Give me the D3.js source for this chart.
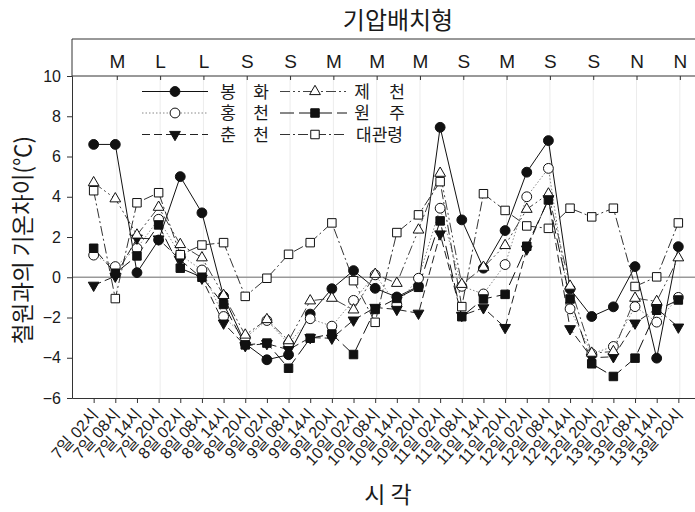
<!DOCTYPE html>
<html><head><meta charset="utf-8">
<script src="https://cdn.jsdelivr.net/npm/d3@7/dist/d3.min.js"></script>
<style>
body{margin:0;background:#fff;}
svg text{font-family:"Liberation Sans","Noto Sans CJK KR",sans-serif;fill:#1a1a1a;}
.kr{font-family:"Noto Sans CJK KR","Liberation Sans",sans-serif;}
</style></head><body>
<svg id="c" width="695" height="512"></svg>
<script>
const categories = ["7일 02시","7일 08시","7일 14시","7일 20시","8일 02시","8일 08시","8일 14시","8일 20시",
  "9일 02시","9일 08시","9일 14시","9일 20시","10일 02시","10일 08시","10일 14시","10일 20시",
  "11일 02시","11일 08시","11일 14시","11일 20시","12일 02시","12일 08시","12일 14시","12일 20시",
  "13일 02시","13일 08시","13일 14시","13일 20시"];
const patternCats = ["7일 08시","7일 20시","8일 08시","8일 20시","9일 08시","9일 20시","10일 08시",
  "10일 20시","11일 08시","11일 20시","12일 08시","12일 20시","13일 08시","13일 20시"];
const patternLabels = ["M","L","L","S","S","M","M","M","S","M","S","S","N","N"];
const yTicks = [-6,-4,-2,0,2,4,6,8,10];

const bonghwa   = [6.6,6.6,0.23,1.85,5.0,3.2,-0.95,-3.3,-4.1,-3.85,-1.83,-0.57,0.33,-0.55,-0.98,-0.45,7.45,2.85,0.45,2.32,5.22,6.79,-0.58,-1.95,-1.47,0.53,-4.02,1.52];
const hongcheon = [1.1,0.53,1.44,2.88,1.1,0.36,-1.95,-3.0,-2.15,-3.3,-2.06,-2.43,-1.15,0.12,-1.35,-0.05,3.43,-0.45,-0.83,0.63,4.0,5.41,-1.57,-3.8,-3.44,-1.46,-2.23,-1.0];
const chuncheon = [-0.4,0.05,1.94,1.9,0.86,-0.05,-2.28,-3.4,-3.3,-3.6,-3.0,-3.03,-2.13,-1.5,-1.6,-1.79,2.15,-1.9,-1.52,-2.5,1.4,3.9,-2.56,-4.0,-3.95,-2.28,-1.55,-2.48];
const jecheon   = [4.7,3.9,2.1,3.48,1.63,0.97,-0.9,-2.87,-2.1,-3.15,-1.17,-1.04,-1.62,0.15,-0.3,2.35,5.17,-0.35,0.5,1.58,3.38,4.14,-0.44,-3.77,-3.69,-1.04,-1.2,0.97];
const wonju     = [1.44,0.2,1.06,2.6,0.45,0.0,-1.35,-3.36,-3.27,-4.52,-3.03,-2.82,-3.84,-1.6,-1.05,-0.5,2.8,-1.96,-1.08,-0.85,1.54,3.84,-1.08,-4.3,-4.93,-4.02,-1.64,-1.13];
const daegwallyeong = [4.3,-1.06,3.7,4.2,1.12,1.6,1.72,-0.95,-0.05,1.14,1.72,2.7,-0.17,-2.24,2.22,3.1,4.75,-1.46,4.15,3.32,2.55,2.43,3.43,3.0,3.43,-0.46,0.02,2.7];

const seriesNames = ["봉화","홍천","춘천","제천","원주","대관령"];

const svg = d3.select("#c");
const L = 72, R = 700, T = 76, B = 398, BAND = 39;

const x = d3.scalePoint().domain(categories).range([L, R]).padding(1);
const y = d3.scaleLinear().domain([-6, 10]).range([B, T]);

const styles = [
  {data: bonghwa, dash: null, color: "#111", sym: d3.symbolCircle, size: 76, fill: "#111", rot: 0},
  {data: hongcheon, dash: "1.5,2", color: "#888", sym: d3.symbolCircle, size: 76, fill: "#fff", rot: 0},
  {data: chuncheon, dash: "8,4", color: "#222", sym: d3.symbolTriangle, size: 50, fill: "#111", rot: 180},
  {data: jecheon, dash: "10,3,2,3,2,3", color: "#444", sym: d3.symbolTriangle, size: 50, fill: "#fff", rot: 0},
  {data: wonju, dash: "14,5", color: "#111", sym: d3.symbolSquare, size: 72, fill: "#111", rot: 0},
  {data: daegwallyeong, dash: "10,3,2,3", color: "#333", sym: d3.symbolSquare, size: 72, fill: "#fff", rot: 0}
];

// top band frame
svg.append("line").attr("x1", L).attr("x2", R).attr("y1", BAND).attr("y2", BAND).attr("stroke", "#333").attr("stroke-width", 1);
svg.append("line").attr("x1", L).attr("x2", L).attr("y1", BAND).attr("y2", T).attr("stroke", "#333").attr("stroke-width", 1);

// vertical gridlines at pattern ticks
svg.append("g").selectAll("line").data(patternCats).join("line")
  .attr("x1", d => x(d) + 1.5).attr("x2", d => x(d) + 1.5)
  .attr("y1", T).attr("y2", B).attr("stroke", "#ececec").attr("stroke-width", 1);

// zero line
svg.append("line").attr("x1", L).attr("x2", R).attr("y1", y(0)).attr("y2", y(0))
  .attr("stroke", "#999").attr("stroke-width", 1.5);

// left axis
const ya = svg.append("g").attr("transform", `translate(${L},0)`)
  .call(d3.axisLeft(y).tickValues(yTicks).tickSize(5).tickPadding(6).tickFormat(d3.format("d")));
ya.select(".domain").attr("stroke", "#333");
ya.selectAll(".tick line").attr("stroke", "#333");
ya.selectAll("text").attr("font-size", 16).attr("fill", "#222");

// bottom axis
const xa = svg.append("g").attr("transform", `translate(0,${B})`)
  .call(d3.axisBottom(x).tickSize(5).tickSizeOuter(0));
xa.select(".domain").attr("stroke", "#333");
xa.selectAll(".tick line").attr("stroke", "#333");
xa.selectAll("text").attr("font-size", 16).attr("fill", "#222")
  .attr("text-anchor", "end").attr("y", 0).attr("dy", 0)
  .attr("transform", "translate(5,17) rotate(-48)");

// top axis (pattern labels)
const ta = svg.append("g").attr("transform", `translate(1.5,${T})`)
  .call(d3.axisTop(x).tickValues(patternCats).tickSizeInner(-4).tickSizeOuter(0).tickPadding(8)
    .tickFormat((d, i) => patternLabels[i]));
ta.select(".domain").attr("stroke", "#333").attr("d", `M${L - 1.5},0H${R}`);
ta.selectAll(".tick line").attr("stroke", "#333");
ta.selectAll("text").attr("font-size", 19).attr("fill", "#222");

// series
styles.forEach(s => {
  const line = d3.line().x((d, i) => x(categories[i])).y(d => y(d));
  svg.append("path").datum(s.data).attr("d", line).attr("fill", "none")
    .attr("stroke", s.color).attr("stroke-width", 1).attr("stroke-dasharray", s.dash);
});
styles.forEach(s => {
  const sym = d3.symbol().type(s.sym).size(s.size);
  svg.append("g").selectAll("path").data(s.data).join("path")
    .attr("d", sym)
    .attr("transform", (d, i) => `translate(${x(categories[i])},${y(d)}) rotate(${s.rot})`)
    .attr("fill", s.fill).attr("stroke", "#111").attr("stroke-width", 1);
});

// legend
const legRows = [91.5, 113, 134.5];
const cols = [{x1: 142, x2: 208, xs: 175, tx: [228, 261]}, {x1: 280, x2: 347, xs: 315, tx: [362, 397]}];
styles.forEach((s, k) => {
  const col = cols[Math.floor(k / 3)], ry = legRows[k % 3];
  svg.append("line").attr("x1", col.x1).attr("x2", col.x2).attr("y1", ry).attr("y2", ry)
    .attr("stroke", s.color).attr("stroke-width", 1).attr("stroke-dasharray", s.dash);
  svg.append("path").attr("d", d3.symbol().type(s.sym).size(s.size)())
    .attr("transform", `translate(${col.xs},${ry}) rotate(${s.rot})`)
    .attr("fill", s.fill).attr("stroke", "#111");
  const t = svg.append("text").attr("font-size", 17).attr("y", ry).attr("dy", "0.36em").attr("fill", "#222");
  const name = seriesNames[k];
  if (name.length === 2) {
    t.append("tspan").attr("x", col.tx[0]).attr("text-anchor", "middle").text(name[0]);
    t.append("tspan").attr("x", col.tx[1]).attr("text-anchor", "middle").text(name[1]);
  } else {
    t.attr("x", (col.tx[0] + col.tx[1]) / 2).attr("text-anchor", "middle").text(name);
  }
});

// titles
svg.append("text").attr("class", "kr").attr("x", 398).attr("y", 29).attr("text-anchor", "middle")
  .attr("font-size", 24).text("기압배치형");
svg.append("text").attr("class", "kr").attr("transform", "translate(31,240) rotate(-90)")
  .attr("text-anchor", "middle").attr("font-size", 22.5).text("철원과의 기온차이(℃)");
svg.append("text").attr("class", "kr").attr("x", 388).attr("y", 503).attr("text-anchor", "middle")
  .attr("font-size", 23).text("시 각");
</script>
</body></html>
